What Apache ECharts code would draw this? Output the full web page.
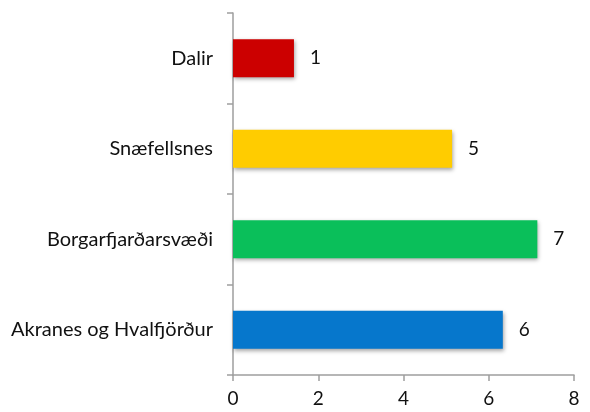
<!DOCTYPE html>
<html lang="is" style="height: 100%">
<head>
  <meta charset="utf-8">
</head>
<body style="height: 100%; margin: 0; background: #fff">
  <div id="container" style="width: 590px; height: 412px"></div>
  <script type="text/javascript" src="https://cdn.jsdelivr.net/npm/echarts@6/dist/echarts.min.js"></script>
  <script type="text/javascript">
    // categories from top to bottom
    var regions = ['Dalir', 'Snæfellsnes', 'Borgarfjarðarsvæði', 'Akranes og Hvalfjörður'];
    // bar lengths; labels show them rounded
    var values = [1.43, 5.14, 7.14, 6.33];
    var barColors = ['#CC0000', '#FFCC00', '#0ABF5A', '#0677CC'];
    var xTicks = { min: 0, max: 8, interval: 2 };

    var dom = document.getElementById('container');
    var myChart = echarts.init(dom, null, { renderer: 'canvas' });

    var font = 'Lato, "Open Sans", sans-serif';
    var axisGray = '#9E9E9E';

    var option = {
      animation: false,
      textStyle: { fontFamily: font },
      grid: { left: 233, right: 16, top: 13, bottom: 37 },
      xAxis: {
        type: 'value',
        min: xTicks.min,
        max: xTicks.max,
        interval: xTicks.interval,
        axisLine: { show: true, lineStyle: { color: axisGray, width: 1.5 } },
        axisTick: { show: true, length: 6, lineStyle: { color: axisGray, width: 1.5 } },
        splitLine: { show: false },
        axisLabel: { color: '#111', fontSize: 19, fontFamily: font, margin: 14 }
      },
      yAxis: {
        type: 'category',
        inverse: true,
        data: regions,
        axisLine: { show: true, lineStyle: { color: axisGray, width: 1.5 } },
        axisTick: { show: true, length: 6, lineStyle: { color: axisGray, width: 1.5 } },
        axisLabel: { color: '#111', fontSize: 20, fontFamily: font, margin: 20 }
      },
      series: [
        {
          type: 'bar',
          barWidth: 38,
          data: values.map(function (v, i) {
            return { value: v, itemStyle: { color: barColors[i] } };
          }),
          itemStyle: {
            shadowColor: 'rgba(0,0,0,0.35)',
            shadowBlur: 4,
            shadowOffsetX: 1,
            shadowOffsetY: 2
          },
          label: {
            show: true,
            position: 'right',
            distance: 16,
            color: '#111',
            fontSize: 19,
            fontFamily: font,
            formatter: function (p) { return Math.round(p.value); }
          }
        }
      ]
    };
    myChart.setOption(option);
    window.addEventListener('resize', myChart.resize);
  </script>
</body>
</html>
